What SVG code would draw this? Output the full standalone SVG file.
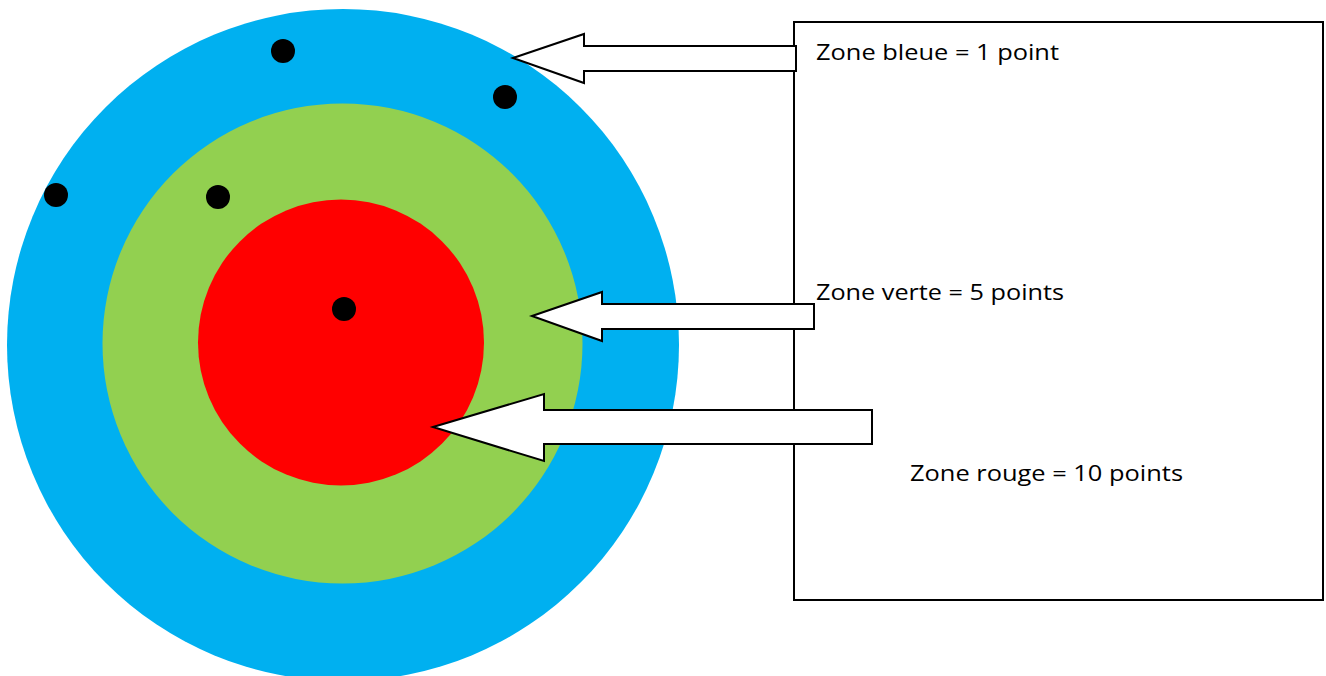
<svg xmlns="http://www.w3.org/2000/svg" width="1326" height="676" viewBox="0 0 1326 676">
<style>
.dot{fill:#000}
.arrow{fill:#fff;stroke:#000;stroke-width:2;stroke-linejoin:miter}
.lbl{font-family:"Open Sans","Liberation Sans",sans-serif;font-size:22px;fill:#000}
</style>
<rect width="1326" height="676" fill="#fff"/>
<g id="target">
<circle cx="343" cy="345" r="336" fill="#00b0f0"/>
<circle cx="342.5" cy="343.5" r="240" fill="#92d050"/>
<circle cx="341" cy="342.5" r="143" fill="#ff0000"/>
</g>
<g id="hits">
<circle class="dot" cx="283" cy="51" r="12"/>
<circle class="dot" cx="505" cy="97" r="12"/>
<circle class="dot" cx="56" cy="195" r="12"/>
<circle class="dot" cx="218" cy="197" r="12"/>
<circle class="dot" cx="344" cy="309" r="12"/>
</g>
<g id="legend">
<rect x="794" y="22" width="529" height="578" fill="#fff" stroke="#000" stroke-width="2"/>
<text class="lbl" x="816" y="60" textLength="243" lengthAdjust="spacingAndGlyphs">Zone bleue = 1 point</text>
<text class="lbl" x="816" y="300" textLength="248" lengthAdjust="spacingAndGlyphs">Zone verte = 5 points</text>
<text class="lbl" x="910" y="481" textLength="273" lengthAdjust="spacingAndGlyphs">Zone rouge = 10 points</text>
</g>
<g id="connectors">
<polygon class="arrow" points="513,58 584,34 584,46 796,46 796,71 584,71 584,83"/>
<polygon class="arrow" points="532,316 602,292 602,304 814,304 814,329 602,329 602,341"/>
<polygon class="arrow" points="433,427 544,394 544,410 872,410 872,444 544,444 544,461"/>
</g>
</svg>
